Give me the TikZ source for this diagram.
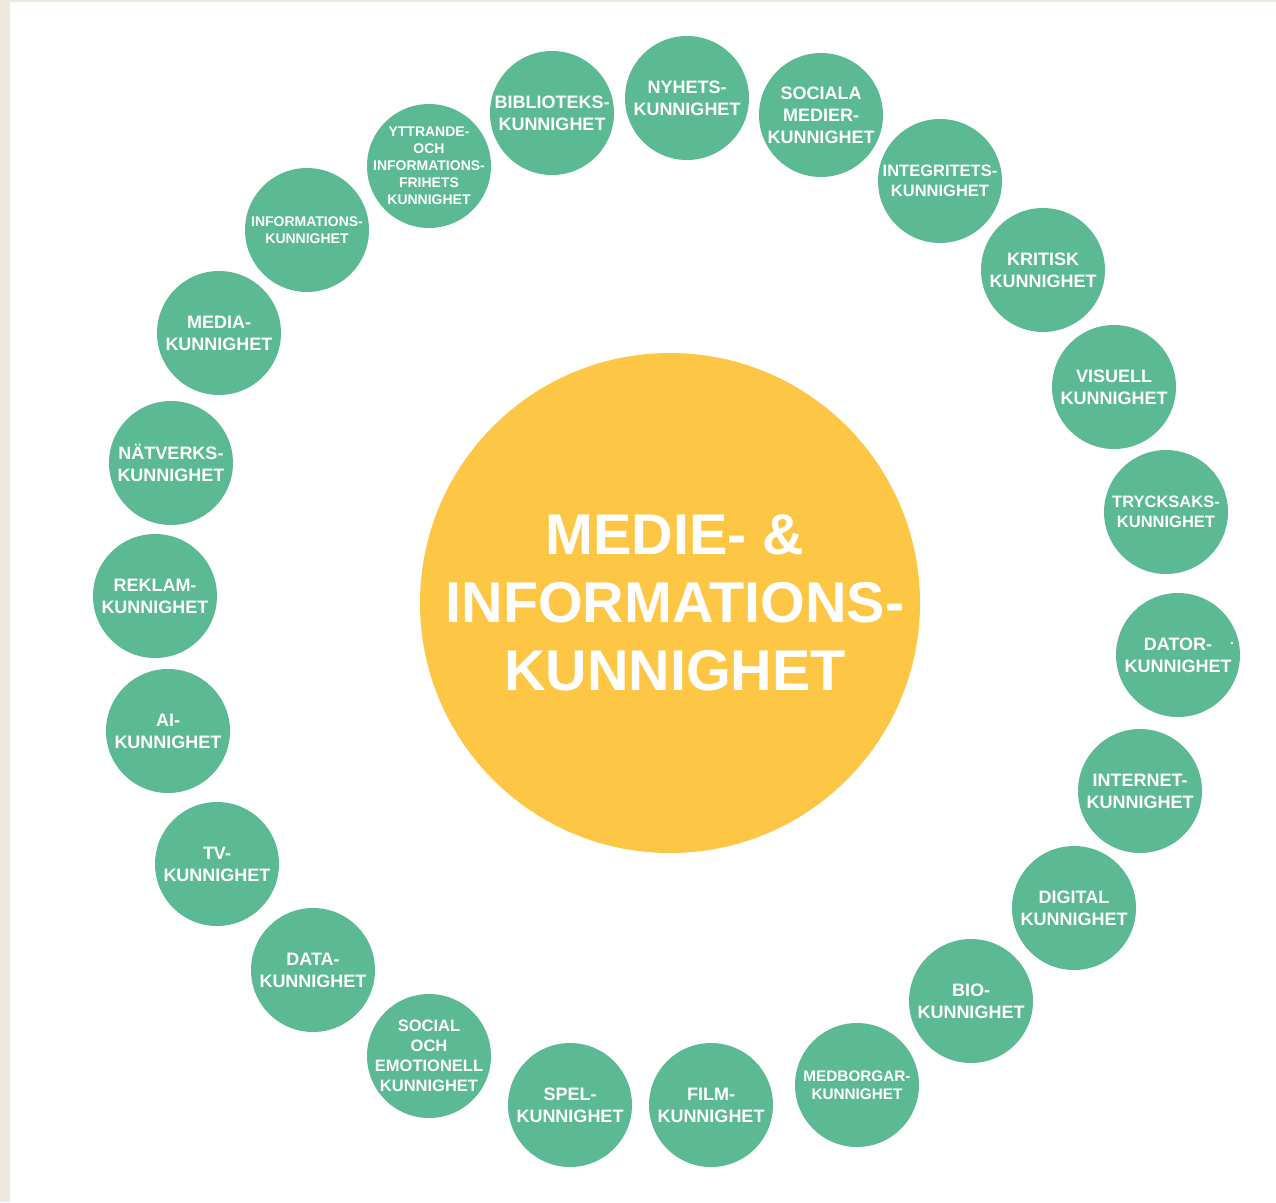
\documentclass[tikz,border=0pt]{standalone}
\usepackage{fontspec}
\setmainfont{Liberation Sans}
\definecolor{mgreen}{HTML}{5BBA94}
\definecolor{myellow}{HTML}{FEC645}
\definecolor{beige}{HTML}{EEE8DD}
\tikzset{
  bub/.style={circle, fill=mgreen, draw=none, minimum size=124pt, inner sep=0pt},
  lbl/.style={text=white, align=center, inner sep=0pt, font=\bfseries\fontsize{18}{22}\selectfont},
  lblm/.style={lbl, font=\bfseries\fontsize{16.5}{20}\selectfont},
  lbls/.style={lbl, font=\bfseries\fontsize{14}{17}\selectfont},
  lblmb/.style={lbl, font=\bfseries\fontsize{15.3}{18}\selectfont},
  bigc/.style={circle, fill=myellow, draw=none, minimum size=500pt, inner sep=0pt},
  biglbl/.style={text=white, align=center, inner sep=0pt, font=\bfseries\fontsize{57.5}{68}\selectfont}
}
\begin{document}
\begin{tikzpicture}[x=1pt,y=-1pt]
\useasboundingbox (0,0) rectangle (1276,1202);
\fill[beige] (0,0) rectangle (1276,1202);
\fill[white] (10,2) rectangle (1276,1202);

\node[bigc] (mid) at (670,603) {};
\node[biglbl] (midt) at (675,603) {MEDIE- \&\\INFORMATIONS-\\KUNNIGHET};

\node[bub] (n1) at (687,98) {};
\node[lbl] (t1) at (n1) {NYHETS-\\KUNNIGHET};
\node[bub] (n2) at (821,115) {};
\node[lbl] (t2) at (n2) {SOCIALA\\MEDIER-\\KUNNIGHET};
\node[bub] (n3) at (940,181) {};
\node[lblm] (t3) at (n3) {INTEGRITETS-\\KUNNIGHET};
\node[bub] (n4) at (1043,270) {};
\node[lbl] (t4) at (n4) {KRITISK\\KUNNIGHET};
\node[bub] (n5) at (1114,387) {};
\node[lbl] (t5) at (n5) {VISUELL\\KUNNIGHET};
\node[bub] (n6) at (1166,512) {};
\node[lblm] (t6) at (n6) {TRYCKSAKS-\\KUNNIGHET};
\node[bub] (n7) at (1178,655) {};
\node[lbl] (t7) at (n7) {DATOR-\\KUNNIGHET};
\fill[white] (1232,643) circle (1.3pt);
\node[bub] (n8) at (1140,791) {};
\node[lbl] (t8) at (n8) {INTERNET-\\KUNNIGHET};
\node[bub] (n9) at (1074,908) {};
\node[lbl] (t9) at (n9) {DIGITAL\\KUNNIGHET};
\node[bub] (n10) at (971,1001) {};
\node[lbl] (t10) at (n10) {BIO-\\KUNNIGHET};
\node[bub] (n11) at (857,1085) {};
\node[lblmb] (t11) at (n11) {MEDBORGAR-\\KUNNIGHET};
\node[bub] (n12) at (711,1105) {};
\node[lbl] (t12) at (n12) {FILM-\\KUNNIGHET};
\node[bub] (n13) at (570,1105) {};
\node[lbl] (t13) at (n13) {SPEL-\\KUNNIGHET};
\node[bub] (n14) at (429,1056) {};
\node[lblm] (t14) at (n14) {SOCIAL\\OCH\\EMOTIONELL\\KUNNIGHET};
\node[bub] (n15) at (313,970) {};
\node[lbl] (t15) at (n15) {DATA-\\KUNNIGHET};
\node[bub] (n16) at (217,864) {};
\node[lbl] (t16) at (n16) {TV-\\KUNNIGHET};
\node[bub] (n17) at (168,731) {};
\node[lbl] (t17) at (n17) {AI-\\KUNNIGHET};
\node[bub] (n18) at (155,596) {};
\node[lbl] (t18) at (n18) {REKLAM-\\KUNNIGHET};
\node[bub] (n19) at (171,463) {};
\node[lbl] (t19) at (n19) {NÄTVERKS-\\KUNNIGHET};
\node[bub] (n20) at (219,333) {};
\node[lbl] (t20) at (n20) {MEDIA-\\KUNNIGHET};
\node[bub] (n21) at (307,230) {};
\node[lbls] (t21) at (n21) {INFORMATIONS-\\KUNNIGHET};
\node[bub] (n22) at (429,166) {};
\node[lbls] (t22) at (n22) {YTTRANDE-\\OCH\\INFORMATIONS-\\FRIHETS\\KUNNIGHET};
\node[bub] (n23) at (552,113) {};
\node[lbl] (t23) at (n23) {BIBLIOTEKS-\\KUNNIGHET};
\end{tikzpicture}
\end{document}
